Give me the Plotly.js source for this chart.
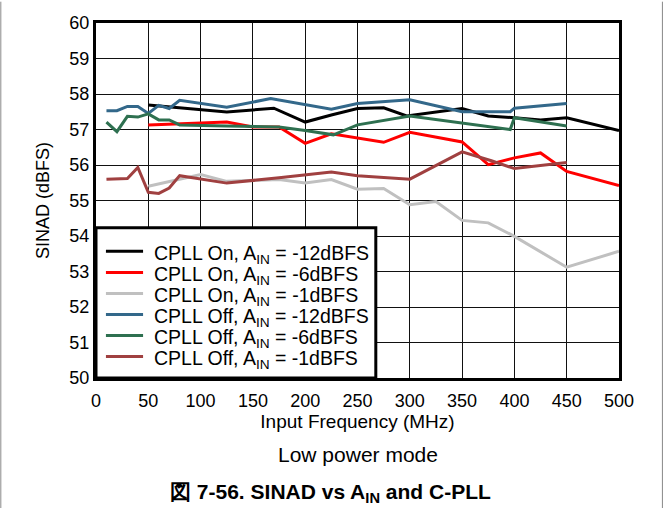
<!DOCTYPE html>
<html>
<head>
<meta charset="utf-8">
<script src="https://cdn.plot.ly/plotly-3.0.1.min.js"></script>
<style>html,body{margin:0;padding:0;background:#fff;}#chart{width:664px;height:508px;}</style>
</head>
<body>
<div id="chart"></div>
<script>
// CPLL On, AIN = -12dBFS
const onM12X = [50, 125, 170, 200, 225, 250, 275, 297, 350, 375, 400, 425, 450, 500];
const onM12Y = [57.69, 57.49, 57.6, 57.21, 57.41, 57.59, 57.61, 57.38, 57.59, 57.38, 57.33, 57.27, 57.33, 56.97];
// CPLL On, AIN = -6dBFS
const onM6X = [50, 125, 150, 175, 200, 225, 275, 300, 350, 375, 400, 425, 450, 500];
const onM6Y = [57.13, 57.21, 57.07, 57.07, 56.61, 56.88, 56.64, 56.92, 56.65, 56.01, 56.2, 56.34, 55.82, 55.42];
// CPLL On, AIN = -1dBFS
const onM1X = [50, 100, 125, 175, 200, 225, 250, 275, 300, 325, 350, 375, 400, 450, 500];
const onM1Y = [55.4, 55.73, 55.54, 55.59, 55.49, 55.59, 55.32, 55.34, 54.88, 54.97, 54.44, 54.37, 53.99, 53.12, 53.57];
// CPLL Off, AIN = -12dBFS
const offM12X = [10, 20, 30, 40, 50, 60, 70, 80, 125, 167, 225, 250, 300, 350, 396, 400, 450];
const offM12Y = [57.53, 57.53, 57.65, 57.65, 57.45, 57.68, 57.59, 57.82, 57.63, 57.87, 57.57, 57.73, 57.84, 57.5, 57.5, 57.6, 57.73];
// CPLL Off, AIN = -6dBFS
const offM6X = [10, 20, 30, 40, 50, 60, 70, 80, 125, 175, 200, 227, 250, 300, 396, 400, 450];
const offM6Y = [57.21, 56.94, 57.37, 57.35, 57.44, 57.27, 57.27, 57.13, 57.1, 57.07, 56.97, 56.85, 57.13, 57.38, 57.0, 57.33, 57.1];
// CPLL Off, AIN = -1dBFS
const offM1X = [10, 20, 30, 40, 50, 60, 70, 80, 125, 175, 225, 250, 300, 350, 378, 400, 450];
const offM1Y = [55.6, 55.6, 55.62, 55.93, 55.23, 55.2, 55.35, 55.7, 55.49, 55.64, 55.8, 55.7, 55.6, 56.37, 56.12, 55.9, 56.07];

const names = [
  'CPLL On, A<sub>IN</sub> = -12dBFS',
  'CPLL On, A<sub>IN</sub> = -6dBFS',
  'CPLL On, A<sub>IN</sub> = -1dBFS',
  'CPLL Off, A<sub>IN</sub> = -12dBFS',
  'CPLL Off, A<sub>IN</sub> = -6dBFS',
  'CPLL Off, A<sub>IN</sub> = -1dBFS'
];
const colors = ['#000000', '#ff0000', '#c0c0c0', '#33688a', '#2e7050', '#a04040'];
const xs = [onM12X, onM6X, onM1X, offM12X, offM6X, offM1X];
const ys = [onM12Y, onM6Y, onM1Y, offM12Y, offM6Y, offM1Y];

const xTicks = [0, 50, 100, 150, 200, 250, 300, 350, 400, 450, 500];
const yTicks = [50, 51, 52, 53, 54, 55, 56, 57, 58, 59, 60];

const data = xs.map((x, i) => ({
  x: x, y: ys[i], name: names[i], type: 'scatter', mode: 'lines',
  line: {color: colors[i], width: 3}, showlegend: false
}));

const font = 'Liberation Sans, Arial, Helvetica, sans-serif';

// legend box drawn in paper coordinates (plot area: 0..1)
const legBox = {x0: 0, x1: 0.535, y0: 0, y1: 0.423};
const legRowTop = 0.3567, legRowStep = 0.0592;
const shapes = [
  {type: 'line', xref: 'paper', yref: 'paper', x0: -0.182, x1: -0.182, y0: -0.45, y1: 1.06,
   line: {color: '#888', width: 1}},
  {type: 'line', xref: 'paper', yref: 'paper', x0: 1.083, x1: 1.083, y0: -0.45, y1: 1.06,
   line: {color: '#888', width: 1}},
  {type: 'rect', xref: 'paper', yref: 'paper', x0: legBox.x0, x1: legBox.x1, y0: legBox.y0, y1: legBox.y1,
   fillcolor: '#ffffff', line: {color: '#000', width: 3}, layer: 'above'}
];
const annotations = [
  {text: 'Low power mode', xref: 'paper', yref: 'paper', x: 0.5, y: -0.215,
   xanchor: 'center', yanchor: 'middle', showarrow: false,
   font: {family: font, size: 21, color: '#000'}},
  {text: '<b>図 7-56. SINAD vs A<sub>IN</sub> and C-PLL</b>', xref: 'paper', yref: 'paper', x: 0.448, y: -0.325,
   xanchor: 'center', yanchor: 'middle', showarrow: false,
   font: {family: font, size: 21, color: '#000'}}
];
names.forEach((n, i) => {
  const yy = legRowTop - i * legRowStep;
  shapes.push({type: 'line', xref: 'paper', yref: 'paper', x0: 0.019, x1: 0.09, y0: yy, y1: yy,
    line: {color: colors[i], width: 3}, layer: 'above'});
  annotations.push({text: n, xref: 'paper', yref: 'paper', x: 0.107, y: yy,
    xanchor: 'left', yanchor: 'middle', yshift: -3, showarrow: false,
    font: {family: font, size: 19.5, color: '#000'}});
});

const layout = {
  width: 664, height: 508,
  margin: {l: 96, r: 45, t: 23, b: 130},
  paper_bgcolor: '#ffffff', plot_bgcolor: '#ffffff',
  font: {family: font, size: 18, color: '#000'},
  showlegend: false,
  xaxis: {
    range: [0, 500], tickvals: xTicks, ticktext: xTicks.map(String),
    showgrid: true, gridcolor: '#111', gridwidth: 1,
    showline: true, mirror: true, linecolor: '#000', linewidth: 3,
    ticks: '', zeroline: false, ticklabelstandoff: 4,
    tickfont: {family: font, size: 18},
    title: {text: 'Input Frequency (MHz)', font: {family: font, size: 19}, standoff: 2}
  },
  yaxis: {
    range: [50, 60], tickvals: yTicks, ticktext: yTicks.map(String),
    showgrid: true, gridcolor: '#111', gridwidth: 1,
    showline: true, mirror: true, linecolor: '#000', linewidth: 3,
    ticks: '', zeroline: false,
    tickfont: {family: font, size: 18},
    title: {text: 'SINAD (dBFS)', font: {family: font, size: 18}, standoff: 16}
  },
  shapes: shapes,
  annotations: annotations
};

Plotly.newPlot('chart', data, layout, {displayModeBar: false, staticPlot: true});
</script>
</body>
</html>
